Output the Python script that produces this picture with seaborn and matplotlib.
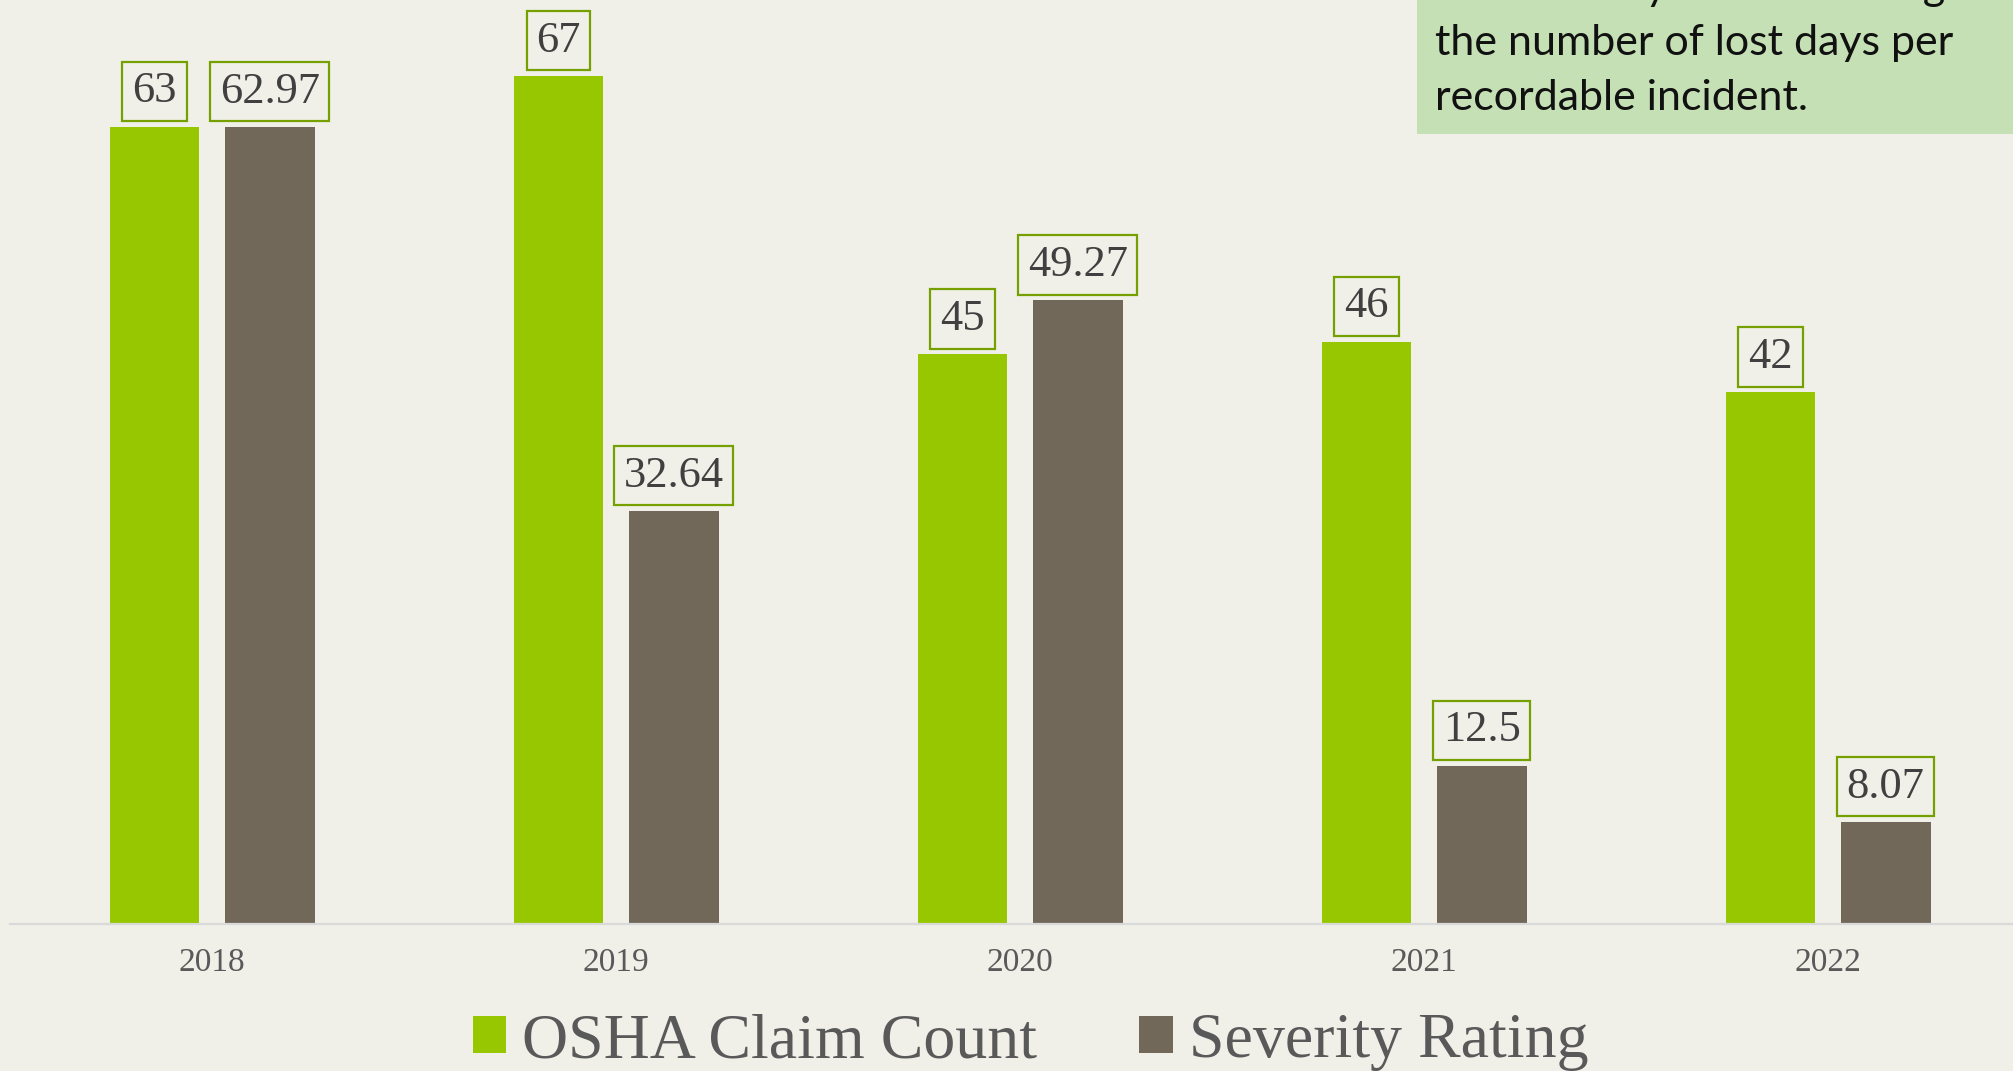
import matplotlib.pyplot as plt
import pandas as pd
import seaborn as sns
from matplotlib.patches import Rectangle

# data
years = ["2018", "2019", "2020", "2021", "2022"]
claim_count = [63, 67, 45, 46, 42]
severity = [62.97, 32.64, 49.27, 12.5, 8.07]
series = ["OSHA Claim Count", "Severity Rating"]
note_lines = ["The severity rate is a rating of",
              "the number of lost days per",
              "recordable incident."]

bg = "#F0F0E9"
green = "#96C700"
grey = "#72685A"

sns.set_style("white", {"axes.facecolor": bg, "figure.facecolor": bg})
plt.rcParams['font.family'] = ['Liberation Serif', 'DejaVu Serif']

df = pd.DataFrame({
    "year": years * 2,
    "value": claim_count + severity,
    "series": [series[0]] * len(years) + [series[1]] * len(years),
})

fig = plt.figure(figsize=(20.13, 10.71), dpi=100)
ax = fig.add_axes([0.005, 0.1373, 1.0035, 0.8627])

sns.barplot(data=df, x="year", y="value", hue="series", hue_order=series,
            palette=[green, grey], width=0.57, gap=0.22, linewidth=0,
            saturation=1, ax=ax)

ax.set_ylim(0, 73)
ax.set_xlim(-0.5, 4.5)
ax.set_xlabel("")
ax.set_ylabel("")
ax.set_yticks([])
ax.tick_params(axis="x", length=0, pad=17, labelsize=24, labelcolor="#595959")
for s in ["top", "left", "right"]:
    ax.spines[s].set_visible(False)
ax.spines["bottom"].set_color("#D9D9D9")
ax.spines["bottom"].set_linewidth(1.6)

# value labels in boxes
for cont, vals in zip(ax.containers, [claim_count, severity]):
    ax.bar_label(cont, labels=[f"{v:g}" for v in vals], padding=11,
                 fontsize=32, color="#404040",
                 bbox=dict(boxstyle="square,pad=0.22", facecolor=bg,
                           edgecolor="#76A000", linewidth=1.6))

sns.move_legend(ax, "center", bbox_to_anchor=(0.512, 0.027),
                bbox_transform=fig.transFigure, ncol=2, frameon=False,
                title=None, fontsize=46, handlelength=0.52, handleheight=0.52,
                handletextpad=0.25, columnspacing=1.6)
for t in ax.get_legend().get_texts():
    t.set_color("#595959")

# note box top right
fig.patches.append(Rectangle((0.704, 0.875), 0.4, 0.2, transform=fig.transFigure,
                             facecolor="#C5E0B4", edgecolor="none", zorder=5))
for i, line in enumerate(note_lines):
    fig.text(0.713, 1 - (i * 55) / 1071, line, fontsize=31, va="baseline",
             ha="left", color="#111111", family=["Lato", "DejaVu Sans"], zorder=6)

fig.savefig("out.png", dpi=100, facecolor=bg)
